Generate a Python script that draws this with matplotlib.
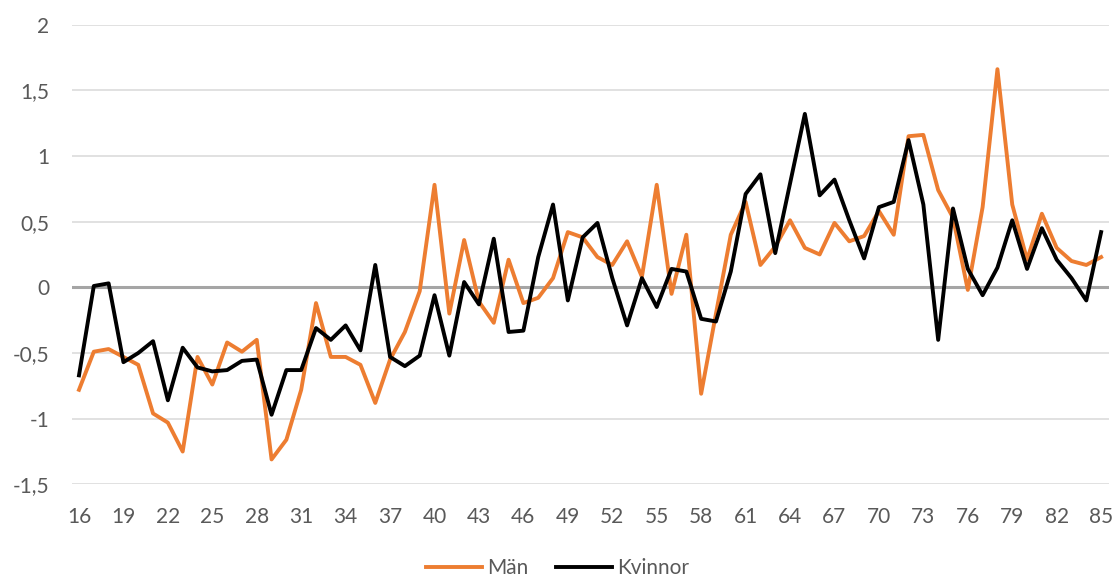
import numpy as np
import matplotlib.pyplot as plt

plt.rcParams['font.family'] = ['Lato', 'DejaVu Sans']

# ålder 16-85
ages = np.arange(16, 86)
man = [-0.78, -0.49, -0.47, -0.53, -0.59, -0.96, -1.03, -1.25, -0.53, -0.74,
       -0.42, -0.49, -0.40, -1.31, -1.16, -0.78, -0.12, -0.53, -0.53, -0.59,
       -0.88, -0.55, -0.34, -0.03, 0.78, -0.20, 0.36, -0.11, -0.27, 0.21,
       -0.12, -0.08, 0.07, 0.42, 0.38, 0.23, 0.17, 0.35, 0.08, 0.78,
       -0.05, 0.40, -0.81, -0.20, 0.40, 0.65, 0.17, 0.31, 0.51, 0.30,
       0.25, 0.49, 0.35, 0.39, 0.58, 0.40, 1.15, 1.16, 0.74, 0.53,
       -0.02, 0.61, 1.66, 0.63, 0.21, 0.56, 0.30, 0.20, 0.17, 0.23]
kvinnor = [-0.67, 0.01, 0.03, -0.57, -0.50, -0.41, -0.86, -0.46, -0.61, -0.64,
           -0.63, -0.56, -0.55, -0.97, -0.63, -0.63, -0.31, -0.40, -0.29, -0.48,
           0.17, -0.53, -0.60, -0.52, -0.06, -0.52, 0.04, -0.13, 0.37, -0.34,
           -0.33, 0.23, 0.63, -0.10, 0.38, 0.49, 0.07, -0.29, 0.07, -0.15,
           0.14, 0.12, -0.24, -0.26, 0.12, 0.71, 0.86, 0.26, 0.79, 1.32,
           0.70, 0.82, 0.51, 0.22, 0.61, 0.65, 1.12, 0.63, -0.40, 0.60,
           0.14, -0.06, 0.15, 0.51, 0.14, 0.45, 0.21, 0.07, -0.10, 0.42]
yticks = [-1.5, -1, -0.5, 0, 0.5, 1, 1.5, 2]
ytick_labels = ['-1,5', '-1', '-0,5', '0', '0,5', '1', '1,5', '2']

fig = plt.figure(figsize=(11.15, 5.77), dpi=100)
ax = fig.add_axes([0.0642, 0.1605, 0.930, 0.797])

ax.plot(ages, man, color='#ED7D31', lw=2.8, label='Män', solid_joinstyle='round')
ax.plot(ages, kvinnor, color='black', lw=2.8, label='Kvinnor', solid_joinstyle='round')

ax.set_xlim(15.5, 85.5)
ax.set_ylim(-1.5, 2)
ax.set_yticks(yticks)
ax.set_yticklabels(ytick_labels)
ax.set_xticks(ages[::3])
ax.grid(axis='y', color='#D9D9D9', lw=1.1)
ax.set_axisbelow(True)
ax.axhline(0, color='#A5A5A5', lw=2.2, zorder=1.5)
for s in ax.spines.values():
    s.set_visible(False)
ax.tick_params(length=0, labelsize=15, labelcolor='#595959')
ax.tick_params(axis='y', pad=16)
ax.tick_params(axis='x', pad=16)

fig.legend(loc='lower center', ncol=2, frameon=False, fontsize=15,
           labelcolor='#595959', handlelength=2.7, handletextpad=0.25,
           columnspacing=1.3, bbox_to_anchor=(0.5, -0.035))

fig.savefig('out.png', dpi=100)
